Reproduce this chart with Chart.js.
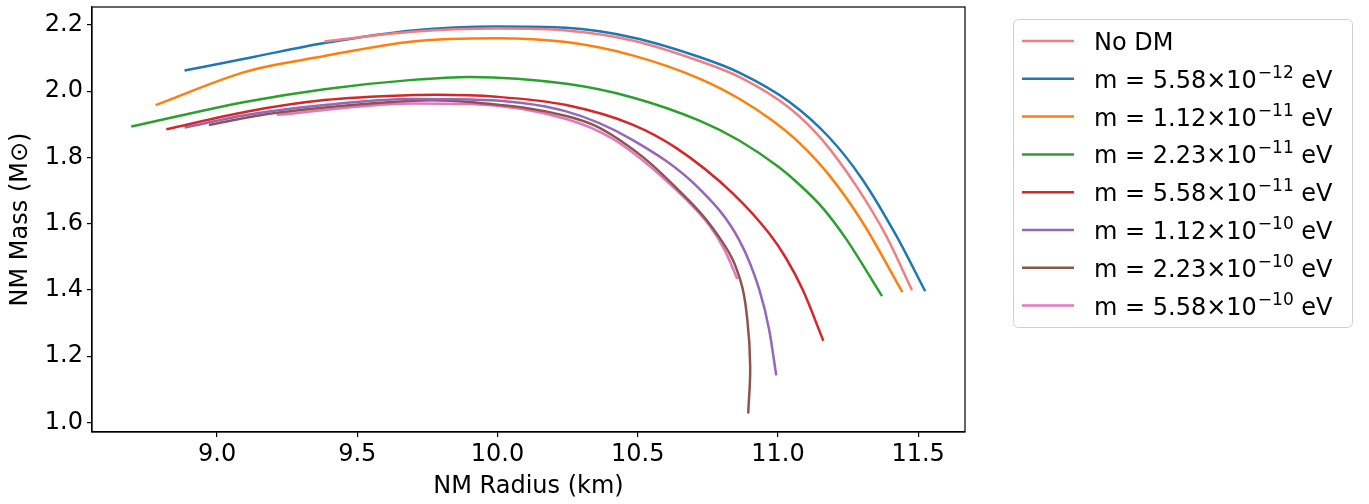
<!DOCTYPE html>
<html>
<head>
<meta charset="utf-8">
<script src="https://cdn.jsdelivr.net/npm/chart.js@4.4.1/dist/chart.umd.min.js"></script>
<style>
  body { margin: 0; background: #fff; }
  canvas { display: block; }
</style>
</head>
<body>
<canvas id="mr" width="1369" height="504"></canvas>
<script>
// radius (km) / mass (Msun)
const noDmR = [9.383, 9.697, 9.996, 10.245, 10.481, 10.720, 10.862, 11.040, 11.158, 11.279, 11.386, 11.478];
const noDmM = [2.150, 2.179, 2.189, 2.183, 2.153, 2.091, 2.043, 1.950, 1.853, 1.714, 1.563, 1.399];

const m1R = [8.884, 9.134, 9.383, 9.697, 9.996, 10.245, 10.481, 10.720, 10.862, 11.040, 11.183, 11.300, 11.421, 11.525];
const m1M = [2.062, 2.104, 2.145, 2.183, 2.195, 2.191, 2.162, 2.103, 2.056, 1.968, 1.860, 1.735, 1.565, 1.396];

const m2R = [8.781, 9.104, 9.383, 9.697, 9.996, 10.245, 10.481, 10.720, 10.862, 10.980, 11.077, 11.184, 11.301, 11.444];
const m2M = [1.958, 2.059, 2.106, 2.150, 2.160, 2.148, 2.108, 2.038, 1.977, 1.911, 1.843, 1.745, 1.605, 1.393];

const m3R = [8.694, 9.104, 9.383, 9.697, 9.900, 10.246, 10.481, 10.720, 10.862, 11.004, 11.075, 11.160, 11.243, 11.371];
const m3M = [1.893, 1.968, 2.006, 2.034, 2.043, 2.022, 1.981, 1.911, 1.851, 1.770, 1.719, 1.647, 1.554, 1.381];

const m4R = [8.819, 9.104, 9.383, 9.697, 9.781, 9.996, 10.245, 10.481, 10.638, 10.837, 10.969, 11.030, 11.088, 11.162];
const m4M = [1.885, 1.938, 1.973, 1.988, 1.989, 1.983, 1.958, 1.899, 1.828, 1.693, 1.570, 1.494, 1.401, 1.246];

const m5R = [8.884, 9.104, 9.383, 9.697, 9.900, 10.245, 10.481, 10.720, 10.862, 10.934, 10.969, 10.994];
const m5M = [1.890, 1.928, 1.958, 1.976, 1.975, 1.939, 1.853, 1.705, 1.550, 1.399, 1.278, 1.142];

const m6R = [8.971, 9.213, 9.697, 9.900, 10.245, 10.434, 10.659, 10.802, 10.866, 10.891, 10.901, 10.894];
const m6M = [1.898, 1.935, 1.971, 1.967, 1.925, 1.853, 1.690, 1.545, 1.429, 1.308, 1.169, 1.027];

const m7R = [9.213, 9.697, 9.900, 10.245, 10.409, 10.601, 10.755, 10.810, 10.855];
const m7M = [1.928, 1.963, 1.961, 1.916, 1.857, 1.730, 1.595, 1.520, 1.433];

const massCoef = ['5.58', '1.12', '2.23', '5.58', '1.12', '2.23', '5.58'];
const massExp = ['\u221212', '\u221211', '\u221211', '\u221211', '\u221210', '\u221210', '\u221210'];

const xTicks = [9.0, 9.5, 10.0, 10.5, 11.0, 11.5];
const yTicks = [1.0, 1.2, 1.4, 1.6, 1.8, 2.0, 2.2];

const colors = ['#f08080', '#1f77b4', '#ff7f0e', '#2ca02c', '#d62728', '#9467bd', '#8c564b', '#e377c2'];
const curves = [[noDmR, noDmM], [m1R, m1M], [m2R, m2M], [m3R, m3M], [m4R, m4M], [m5R, m5M], [m6R, m6M], [m7R, m7M]];

const toPts = (r, m) => r.map((v, i) => ({ x: v, y: m[i] }));
// radius folds back at the end of the brown curve, so it can't be monotone in x
const isMonoX = r => r.every((v, i) => i === 0 || v > r[i - 1]);

const datasets = curves.map((c, i) => ({
  label: i === 0 ? 'No DM' : 'm = ' + massCoef[i - 1] + '\u00d710' + massExp[i - 1] + ' eV',
  data: toPts(c[0], c[1]),
  borderColor: colors[i],
  borderWidth: 2.5,
  pointRadius: 0,
  cubicInterpolationMode: isMonoX(c[0]) ? 'monotone' : 'default',
  tension: 0.4,
  fill: false,
}));

const FONT = 'DejaVu Sans';
Chart.defaults.font.family = FONT;
Chart.defaults.font.size = 24;
Chart.defaults.color = '#000';

// axes frame on all four sides
const framePlugin = {
  id: 'frame',
  afterDraw(chart) {
    const { ctx, chartArea: a } = chart;
    ctx.save();
    ctx.strokeStyle = '#000';
    ctx.lineWidth = 1.2;
    ctx.strokeRect(a.left, a.top, a.right - a.left, a.bottom - a.top);
    ctx.restore();
  }
};

// matplotlib-like legend box with superscript exponents
const legendPlugin = {
  id: 'mplLegend',
  afterDraw(chart) {
    const ctx = chart.ctx;
    const bx = 1013, by = 19, bw = 339, bh = 308;
    const rowY0 = 41, rowH = 37.8;
    ctx.save();
    ctx.beginPath();
    ctx.roundRect(bx + 0.5, by + 0.5, bw, bh, 5);
    ctx.fillStyle = 'rgba(255,255,255,0.8)';
    ctx.fill();
    ctx.strokeStyle = '#d0d0d0';
    ctx.lineWidth = 1;
    ctx.stroke();
    chart.data.datasets.forEach((ds, i) => {
      const y = rowY0 + i * rowH;
      ctx.beginPath();
      ctx.moveTo(1022, y);
      ctx.lineTo(1074, y);
      ctx.strokeStyle = ds.borderColor;
      ctx.lineWidth = 2.5;
      ctx.stroke();
      ctx.fillStyle = '#000';
      ctx.textBaseline = 'alphabetic';
      ctx.textAlign = 'left';
      const base = y + 9;
      let x = 1094;
      ctx.font = '24px "' + FONT + '"';
      if (i === 0) {
        ctx.fillText('No DM', x, base);
        return;
      }
      const head = 'm = ' + massCoef[i - 1] + '\u00d710';
      ctx.fillText(head, x, base);
      x += ctx.measureText(head).width + 1;
      ctx.font = '17px "' + FONT + '"';
      ctx.fillText(massExp[i - 1], x, base - 10);
      x += ctx.measureText(massExp[i - 1]).width;
      ctx.font = '24px "' + FONT + '"';
      ctx.fillText(' eV', x, base);
    });
    ctx.restore();
  }
};

new Chart(document.getElementById('mr'), {
  type: 'line',
  data: { datasets },
  options: {
    responsive: false,
    animation: false,
    layout: { padding: { top: 7, right: 404, left: 0, bottom: 0 } },
    plugins: { legend: { display: false }, tooltip: { enabled: false } },
    scales: {
      x: {
        type: 'linear',
        min: 8.554,
        max: 11.667,
        afterBuildTicks: (s) => { s.ticks = xTicks.map(v => ({ value: v })); },
        afterFit: (s) => { s.height = 72; s.paddingLeft = 0; s.paddingRight = 0; },
        ticks: { callback: v => v.toFixed(1), padding: 3, maxRotation: 0, autoSkip: false },
        grid: { drawOnChartArea: false, drawTicks: true, tickLength: 5, color: '#000', lineWidth: 1.2 },
        border: { display: true, color: '#000', width: 1.2 },
        title: { display: true, text: 'NM Radius (km)', padding: { top: 0, bottom: 3 } }
      },
      y: {
        type: 'linear',
        min: 0.971,
        max: 2.254,
        afterBuildTicks: (s) => { s.ticks = yTicks.map(v => ({ value: v })); },
        afterFit: (s) => { s.width = 92; s.paddingTop = 0; s.paddingBottom = 0; },
        ticks: { callback: v => v.toFixed(1), padding: 4, autoSkip: false },
        grid: { drawOnChartArea: false, drawTicks: true, tickLength: 5, color: '#000', lineWidth: 1.2 },
        border: { display: true, color: '#000', width: 1.2 },
        title: { display: true, text: 'NM Mass (M\u2299)', padding: { top: 6, bottom: 0 } }
      }
    }
  },
  plugins: [framePlugin, legendPlugin]
});
</script>
</body>
</html>
